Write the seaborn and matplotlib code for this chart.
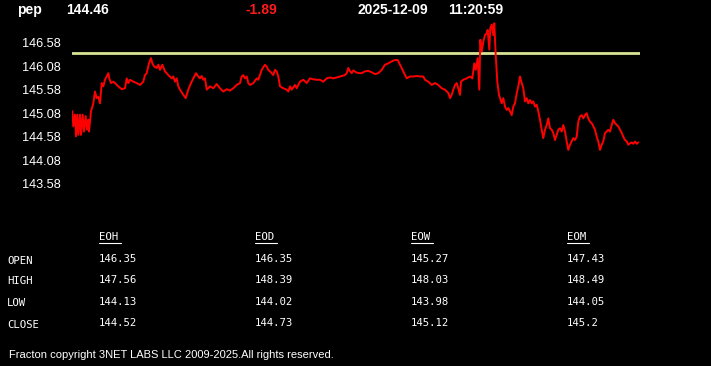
import matplotlib
matplotlib.use("Agg")
import matplotlib.pyplot as plt
from matplotlib.lines import Line2D
import seaborn as sns
import pandas as pd

# ---------------- data ----------------
symbol = "pep"
last_price = "144.46"
change = "-1.89"
stamp_date = "2025-12-09"
stamp_time = "11:20:59"
ref_level = 146.35   # EOH open

sample = [0.3, 1.3, 3, 4, 5.3, 6.3, 8, 9, 10.7, 12, 13.7, 15, 16.3, 17, 19, 21.3, 23, 24.7, 26.3, 28,
          29.7, 31.3, 33, 34.7, 36.3, 37.3, 39, 41.3, 43, 46.3, 49.7, 53, 54.7, 56.3, 58, 61.3, 64.7, 68,
          71.3, 73, 74.7, 77, 79, 80.3, 82.3, 84.7, 86.3, 88, 90.3, 93, 96.3, 99.7, 101.3, 103, 104.7,
          106.3, 108, 111.3, 113.7, 116.3, 119, 121.3, 124, 126.3, 128, 129.7, 131.3, 133, 134.7, 138,
          141.3, 144.7, 148, 151.3, 154.7, 158, 161.3, 164.7, 168, 169.7, 171.3, 173, 174.7, 176.3, 178,
          181.3, 184.7, 186.3, 189.7, 193, 194.7, 196.3, 198, 199.7, 201.3, 203, 204.7, 206.3, 208, 211.3,
          214.7, 216.3, 218, 219.7, 223, 224.7, 228, 231.3, 234.7, 238, 241.3, 244.7, 248, 251.3, 254.7,
          258, 261.3, 264.7, 268, 273, 274.7, 276.3, 278, 279.7, 281.3, 284.7, 288, 289.7, 293, 296.3,
          299.7, 303, 306.3, 309.7, 313, 316.3, 319.7, 323, 325.7, 328, 331.3, 334.7, 338, 341.3, 344.7,
          348, 351.3, 353, 356.3, 359.7, 363, 366.3, 369.7, 373, 376.3, 378, 379.7, 381.3, 383, 384.7,
          386.3, 388, 389, 391.3, 394.7, 398, 400.3, 402.3, 403.7, 405.7, 407.3, 408.3, 409.7, 411.3, 413,
          414.7, 415.7, 417.3, 418.3, 419.7, 421.3, 422.3, 423.7, 425.3, 427, 429.7, 431.3, 433, 434.7,
          436.3, 438, 439.7, 441.3, 443, 444.7, 446.3, 448, 449.7, 451.3, 453, 454.7, 456.3, 458, 459.7,
          461.3, 463, 464.7, 466.3, 468, 469.7, 471.3, 473, 474.7, 476.3, 478, 479.7, 481.3, 483, 484.7,
          486.3, 488, 489.7, 491.3, 493, 494.7, 496.3, 498, 499.7, 501.3, 503, 504.7, 506.3, 508, 509.7,
          511.3, 513, 514.7, 516.3, 518, 519.7, 521.3, 523, 524.7, 526.3, 528, 529.7, 531.3, 533, 534.7,
          536.3, 538, 539.7, 541.3, 543, 544.7, 546.3, 548, 549.7, 551.3, 553, 554.7, 556.3, 558, 559.7,
          561.3, 563, 564.7, 566.3]

price = [145.12, 144.80, 145.05, 144.59, 145.05, 144.62, 145.05, 144.62, 145.05, 144.69, 145.02, 144.73,
         144.94, 144.69, 145.12, 145.29, 145.54, 145.40, 145.43, 145.29, 145.72, 145.65, 145.79, 145.86,
         145.93, 145.82, 145.72, 145.75, 145.72, 145.65, 145.59, 145.61, 145.82, 145.72, 145.79, 145.75,
         145.72, 145.68, 145.75, 145.89, 145.93, 146.14, 146.25, 146.14, 146.07, 146.04, 146.11, 146.00,
         146.11, 145.97, 145.89, 145.82, 145.86, 145.75, 145.82, 145.65, 145.58, 145.47, 145.40, 145.58,
         145.72, 145.82, 145.93, 145.86, 145.82, 145.87, 145.79, 145.82, 145.58, 145.65,
         145.61, 145.70, 145.61, 145.54, 145.59, 145.56, 145.61, 145.68, 145.72, 145.86, 145.89, 145.82,
         145.86, 145.72, 145.68, 145.72, 145.82, 145.79, 146.00, 146.11, 146.07, 146.00, 145.97, 145.93,
         145.89, 146.00, 145.97, 145.86, 145.65, 145.61, 145.58, 145.54, 145.65, 145.58, 145.68, 145.61,
         145.75, 145.79, 145.72, 145.82, 145.80, 145.79, 145.79, 145.75, 145.82, 145.84, 145.82, 145.84,
         145.86, 145.89, 145.93, 146.04, 145.97, 145.93, 145.99, 145.94, 145.93,
         145.93, 145.97, 145.98, 145.95, 145.91, 145.93, 146.00, 146.11, 146.14, 146.18, 146.21, 146.21,
         146.11, 145.97, 145.82, 145.86, 145.86, 145.87, 145.86, 145.86, 145.79, 145.75, 145.68, 145.72,
         145.68, 145.61, 145.58, 145.51, 145.40, 145.47, 145.58, 145.68, 145.72, 145.61, 145.47, 145.75,
         145.79, 145.82, 145.86, 145.82, 146.14, 146.00, 146.25, 145.58, 146.64, 146.39, 146.60, 146.74,
         146.78, 146.85, 146.43, 146.89, 146.96, 146.74, 146.99, 146.32, 145.75, 145.47,
         145.29, 145.40, 145.22, 145.15, 145.19, 145.12, 145.04, 145.22, 145.29, 145.50, 145.65, 145.86,
         145.72, 145.61, 145.33, 145.40, 145.29, 145.36, 145.29, 145.33, 145.22, 145.26, 145.12, 144.94,
         144.73, 144.55, 144.73, 144.83, 144.97, 144.76, 144.73, 144.66, 144.51, 144.62, 144.73, 144.76,
         144.69, 144.83, 144.69, 144.48, 144.30, 144.41, 144.48, 144.55, 144.51, 144.58, 144.90, 145.01,
         145.04, 144.97, 145.04, 145.08, 144.97, 144.90, 144.87, 144.80, 144.73, 144.58, 144.48, 144.30,
         144.41, 144.48, 144.66, 144.69, 144.73, 144.69, 144.83, 144.94, 144.87, 144.83, 144.80, 144.73,
         144.66, 144.58, 144.51, 144.48, 144.41, 144.44, 144.46, 144.43, 144.48, 144.43, 144.46]

y_ticks = [143.58, 144.08, 144.58, 145.08, 145.58, 146.08, 146.58]

table_cols = ["EOH", "EOD", "EOW", "EOM"]
table_rows = ["OPEN", "HIGH", "LOW", "CLOSE"]
table_vals = [["146.35", "146.35", "145.27", "147.43"],
              ["147.56", "148.39", "148.03", "148.49"],
              ["144.13", "144.02", "143.98", "144.05"],
              ["144.52", "144.73", "145.12", "145.2"]]

footer = "Fracton copyright 3NET LABS LLC 2009-2025.All rights reserved."

# ---------------- style ----------------
sns.set_style("dark")
plt.rcParams["font.family"] = ["Liberation Sans", "DejaVu Sans"]

W, H = 711, 366
fig = plt.figure(figsize=(W / 100, H / 100), dpi=100, facecolor="black")

def fx(px):
    return px / W

def fy(py):
    return 1 - py / H

ax = fig.add_axes([fx(72), fy(197), fx(640) - fx(72), fy(20) - fy(197)])
ax.set_facecolor("black")

df = pd.DataFrame({"t": sample, "price": price})
sns.lineplot(data=df, x="t", y="price", ax=ax, color="#ff0000", linewidth=1.4, estimator=None, sort=False)
ax.axhline(ref_level, color="#d9e394", linewidth=2.0, zorder=1)

ax.set_xlim(0, 568)
ax.set_ylim(143.30, 147.06)
ax.set_yticks(y_ticks)
ax.set_yticklabels([f"{v:.2f}" for v in y_ticks])
ax.set_xticks([])
ax.tick_params(axis="y", colors="white", labelsize=9.2, length=0, pad=8)
ax.set_xlabel("")
ax.set_ylabel("")
ax.grid(False)
for s in ax.spines.values():
    s.set_visible(False)

# ---------------- header ----------------
hdr = dict(fontsize=10, fontweight="bold", va="center", ha="left")
fig.text(fx(17), fy(10), symbol, color="white", **hdr)
fig.text(fx(66), fy(10), last_price, color="white", **hdr)
fig.text(fx(245), fy(10), change, color="#ff1a1a", **hdr)
fig.text(fx(357), fy(10), stamp_date, color="white", **hdr)
fig.text(fx(448), fy(10), stamp_time, color="white", **hdr)

# ---------------- table ----------------
mono = dict(family="DejaVu Sans Mono", fontsize=7.7, color="white", va="center", ha="left")
col_x = [99, 255, 411, 567]
label_y = [260.5, 281, 303, 325]
value_y = [259, 280, 302, 323.5]
for cx, name in zip(col_x, table_cols):
    fig.text(fx(cx), fy(237.5), name, **mono)
    fig.add_artist(Line2D([fx(cx), fx(cx + 22)], [fy(243), fy(243)],
                          color="white", linewidth=0.8, transform=fig.transFigure))
for ly, vy, rname, vals in zip(label_y, value_y, table_rows, table_vals):
    fig.text(fx(7), fy(ly), rname, **mono)
    for cx, v in zip(col_x, vals):
        fig.text(fx(cx), fy(vy), v, **mono)

fig.text(fx(9), fy(355), footer, color="white", fontsize=8.05, va="center", ha="left")

fig.savefig("out.png", dpi=100, facecolor="black")
